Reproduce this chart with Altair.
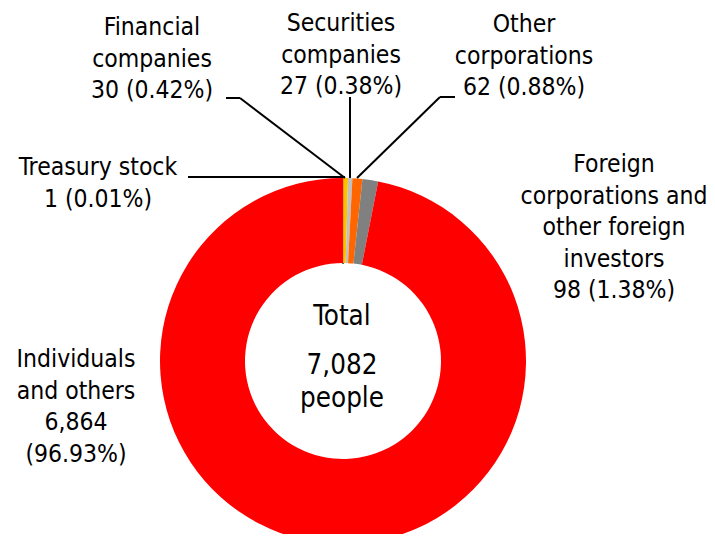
import altair as alt
import pandas as pd

# ---- data ----
categories = ["Treasury stock", "Financial companies", "Securities companies",
              "Other corporations", "Foreign corporations and other foreign investors",
              "Individuals and others"]
counts = [1, 30, 27, 62, 98, 6864]
percents = ["0.01", "0.42", "0.38", "0.88", "1.38", "96.93"]
colors = ["#000000", "#FFC000", "#C0C0C0", "#FF6600", "#808080", "#FF0000"]
total = 7082

# label wrapping (text lines per category)
label_lines = [
    ["Treasury stock", "1 (0.01%)"],
    ["Financial", "companies", "30 (0.42%)"],
    ["Securities", "companies", "27 (0.38%)"],
    ["Other", "corporations", "62 (0.88%)"],
    ["Foreign", "corporations and", "other foreign", "investors", "98 (1.38%)"],
    ["Individuals", "and others", "6,864", "(96.93%)"],
]

# ---- layout (plot-area pixels) ----
W, H = 699, 526
CX, CY = 335, 353
R_OUT, R_IN = 183, 98
label_anchor = [(90, 160), (144, 20), (333, 16), (516, 17), (606, 157), (68, 352)]
line_step = 31.5
leaders = [
    (180, 169, 337, 169),
    (218, 90, 232, 90), (232, 90, 337, 170),
    (342, 89, 342, 170),
    (447, 89, 432, 89), (432, 89, 349, 170),
]
center_lines = [("Total", 334, 309), ("7,082", 334, 358), ("people", 334, 391)]

FONT = "'DejaVu Sans Condensed', 'DejaVu Sans', sans-serif"

pie_df = pd.DataFrame({"category": categories, "count": counts,
                       "order": list(range(len(categories)))})

rows = []
for lines, (ax, ay) in zip(label_lines, label_anchor):
    for i, t in enumerate(lines):
        rows.append({"text": t, "x": ax, "y": ay + i * line_step})
lab_df = pd.DataFrame(rows)
ctr_df = pd.DataFrame([{"text": t, "x": x, "y": y} for t, x, y in center_lines])
lead_df = pd.DataFrame(leaders, columns=["x", "y", "x2", "y2"])

xs = alt.Scale(domain=[0, W], range=[0, W])
ys = alt.Scale(domain=[0, H], range=[0, H])

donut = alt.Chart(pie_df).mark_arc(outerRadius=R_OUT, innerRadius=R_IN, strokeWidth=1.5).encode(
    theta=alt.Theta("count:Q", stack=True),
    order=alt.Order("order:Q"),
    color=alt.Color("category:N", scale=alt.Scale(domain=categories, range=colors), legend=None),
    stroke=alt.Stroke("category:N", scale=alt.Scale(domain=categories,
                      range=["#000000"] + ["transparent"] * 5), legend=None),
    x=alt.value(CX), y=alt.value(CY),
)

rules = alt.Chart(lead_df).mark_rule(color="black", strokeWidth=2).encode(
    x=alt.X("x:Q", scale=xs, axis=None), y=alt.Y("y:Q", scale=ys, axis=None),
    x2="x2:Q", y2="y2:Q",
)

labels = alt.Chart(lab_df).mark_text(font=FONT, fontSize=24.5, color="black",
                                     align="center", baseline="middle").encode(
    x=alt.X("x:Q", scale=xs, axis=None), y=alt.Y("y:Q", scale=ys, axis=None), text="text:N",
)

center = alt.Chart(ctr_df).mark_text(font=FONT, fontSize=27.5, color="black",
                                     align="center", baseline="middle").encode(
    x=alt.X("x:Q", scale=xs, axis=None), y=alt.Y("y:Q", scale=ys, axis=None), text="text:N",
)

chart = alt.layer(donut, rules, labels, center).properties(
    width=W, height=H, padding=0, autosize=alt.AutoSizeParams(type="none")
).configure_view(stroke=None)

chart.save("out.html", embed_options={"renderer": "svg", "actions": False})
